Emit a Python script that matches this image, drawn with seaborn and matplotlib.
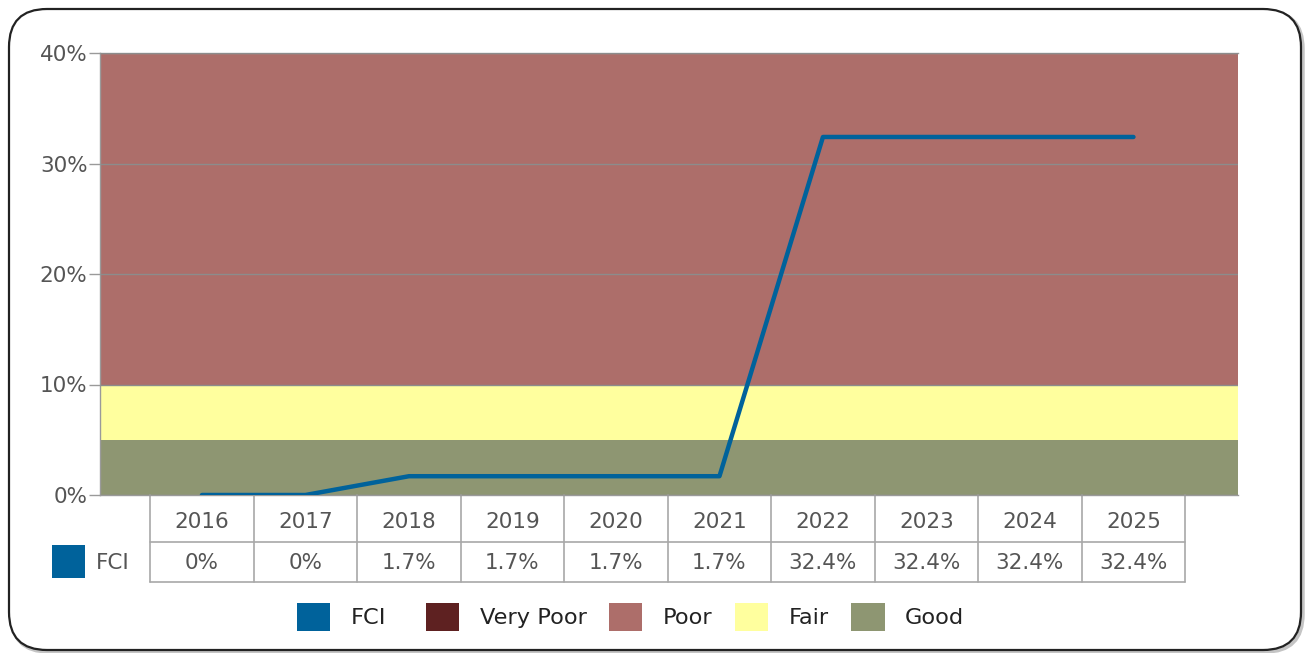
import matplotlib
matplotlib.use("Agg")
import matplotlib.pyplot as plt
import matplotlib.transforms as mtransforms
from matplotlib.patches import Rectangle, FancyBboxPatch, Patch
import seaborn as sns
import pandas as pd

# ---------------- data ----------------
years = ["2016", "2017", "2018", "2019", "2020", "2021", "2022", "2023", "2024", "2025"]
fci = [0.0, 0.0, 1.7, 1.7, 1.7, 1.7, 32.4, 32.4, 32.4, 32.4]
fci_labels = ["0%", "0%", "1.7%", "1.7%", "1.7%", "1.7%", "32.4%", "32.4%", "32.4%", "32.4%"]
band_names = ["Very Poor", "Poor", "Fair", "Good"]
band_lower = [40, 10, 5, 0]
band_upper = [100, 40, 10, 5]
band_colors = ["#5E2121", "#AD6E6A", "#FFFF9E", "#8E9672"]
fci_color = "#00629B"
yticks = [0, 10, 20, 30, 40]
ytick_labels = ["0%", "10%", "20%", "30%", "40%"]

# ---------------- style ----------------
sns.set_style("white")
plt.rcParams['font.family'] = ['DejaVu Sans']

W, H = 1310, 653
fig = plt.figure(figsize=(W / 100, H / 100), dpi=100)
fig.patch.set_facecolor("white")

# rounded frame (pixel coordinates)
ident = mtransforms.IdentityTransform()
shadow = FancyBboxPatch((11, 1), 1292, 641, boxstyle="round,pad=0,rounding_size=38",
                        transform=ident, fc="none", ec="#c4c4c4", lw=2.5, zorder=0)
frame = FancyBboxPatch((9, 3), 1292, 641, boxstyle="round,pad=0,rounding_size=38",
                       transform=ident, fc="white", ec="#222222", lw=1.6, zorder=1)
fig.patches.extend([shadow, frame])

ax = fig.add_axes([100 / W, 158 / H, 1138 / W, 442 / H])
ax.set_zorder(2)

# bands
for lo, hi, c in zip(band_lower, band_upper, band_colors):
    ax.axhspan(lo, hi, color=c, lw=0, zorder=0)

df = pd.DataFrame({"idx": range(len(years)), "FCI": fci})
sns.lineplot(data=df, x="idx", y="FCI", color=fci_color, lw=3.2, ax=ax, zorder=3)

ax.set_xlim(-0.985, 10.01)
ax.set_ylim(0, 40)
ax.set_xticks([])
ax.set_xlabel("")
ax.set_ylabel("")
ax.set_yticks(yticks)
ax.set_yticklabels(ytick_labels)
ax.tick_params(axis='y', length=8, width=1, color='#9a9a9a', pad=1,
               labelsize=15.5, labelcolor='#555555', left=True)
ax.set_axisbelow(False)
ax.yaxis.grid(True, color="#8c8c8c", lw=1)
for s in ["left", "bottom", "top"]:
    ax.spines[s].set_color("#9a9a9a")
    ax.spines[s].set_linewidth(1)
ax.spines["right"].set_visible(False)

# ---------------- data table ----------------
trans = mtransforms.blended_transform_factory(ax.transData, ax.transAxes)
y0, y1, y2 = 0.0, -47 / 442, -87 / 442
ty_year, ty_val = -27 / 442, -68 / 442
n = len(years)
gc = "#a8a8a8"
for i in range(n + 1):
    ax.plot([i - 0.5, i - 0.5], [y0, y2], color=gc, lw=1.2, transform=trans, clip_on=False)
for yy in (y1, y2):
    ax.plot([-0.5, n - 0.5], [yy, yy], color=gc, lw=1.2, transform=trans, clip_on=False)
for i, (yr, lab) in enumerate(zip(years, fci_labels)):
    ax.text(i, ty_year, yr, ha="center", va="center", fontsize=15.5,
            color="#555555", transform=trans, clip_on=False)
    ax.text(i, ty_val, lab, ha="center", va="center", fontsize=15.5,
            color="#555555", transform=trans, clip_on=False)

# row legend
fig.patches.append(Rectangle((52, H - 578), 33, 33, transform=ident, fc=fci_color,
                             ec="none", zorder=3))
fig.text(96 / W, 1 - 563 / H, "FCI", va="center", ha="left", fontsize=15.5, color="#555555")

# ---------------- legend ----------------
common = dict(loc="center left", frameon=False, fontsize=16.2, handlelength=1.47,
              handleheight=1.47, handletextpad=0.92, columnspacing=1.0, borderpad=0,
              borderaxespad=0, labelcolor="#222222")
fig.legend([Patch(fc=fci_color, ec="none")], ["FCI"],
           bbox_to_anchor=(297 / W, 1 - 617 / H), ncol=1, **common)
fig.legend([Patch(fc=c, ec="none") for c in band_colors], band_names,
           bbox_to_anchor=(426 / W, 1 - 617 / H), ncol=4, **common)

fig.savefig("out.png", dpi=100)
